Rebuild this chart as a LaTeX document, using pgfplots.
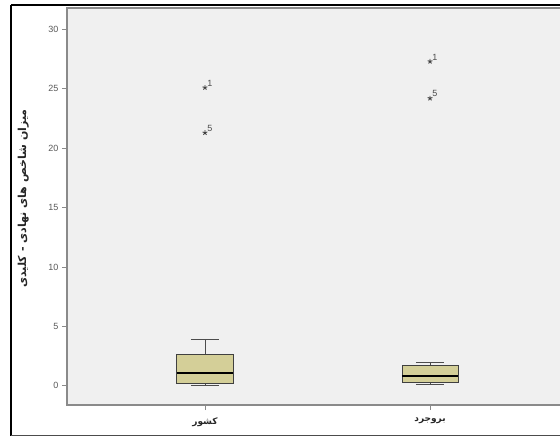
\documentclass[border=0pt]{standalone}
\usepackage{fontspec}
\setmainfont{Liberation Sans}
\newfontfamily\arabicfont[Script=Arabic]{DejaVu Sans}
\TeXXeTstate=1
\usepackage{pgfplots}
\pgfplotsset{compat=1.18}
\usepgfplotslibrary{statistics}

\definecolor{plotbg}{HTML}{F0F0F0}
\definecolor{boxfill}{HTML}{D4CF98}
\definecolor{framegray}{HTML}{8A8A8A}

\begin{document}
\begin{tikzpicture}[x=1pt,y=1pt]
\useasboundingbox (0,0) rectangle (560,437);
\clip (0,0) rectangle (560,437);
\fill[white] (0,0) rectangle (560,437);
\begin{axis}[
    at={(67pt,32pt)}, anchor=south west,
    scale only axis, width=501pt, height=397pt,
    xmin=0.387, xmax=2.613,
    ymin=-1.62, ymax=31.8,
    axis background/.style={fill=plotbg},
    axis line style={draw=framegray, line width=1.2pt},
    tick style={draw=framegray, line width=0.8pt},
    tick align=outside, major tick length=5pt,
    xtick={1,2},
    xticklabels={
        {\arabicfont\bfseries\beginR کشور\endR},
        {\arabicfont\bfseries\beginR بروجرد\endR}
    },
    ytick={0,5,...,30},
    xtick pos=lower, ytick pos=left,
    x tick label style={font=\small, text=black!85, yshift=-4pt},
    y tick label style={font=\small, text=black!65},
    /pgf/number format/assume math mode=true,
    ylabel={\arabicfont\bfseries\beginR میزان شاخص های نهادی - کلیدی\endR},
    ylabel style={at={(axis description cs:-0.087,0.52)}, anchor=center,
                  font=\fontsize{11}{13}\selectfont, text=black!85},
    boxplot/draw direction=y,
    boxplot/every box/.style={draw=black!75, fill=boxfill, line width=0.8pt},
    boxplot/every whisker/.style={draw=black!70, line width=0.9pt},
    boxplot/every median/.style={draw=black, line width=1.6pt},
]
% country
\addplot[boxplot prepared={
    draw position=1,
    lower whisker=0.06, lower quartile=0.2, median=1.07,
    upper quartile=2.64, upper whisker=3.9,
    box extend=0.25, whisker extend=0.125}, mark=none]
    coordinates {};
% Borujerd
\addplot[boxplot prepared={
    draw position=2,
    lower whisker=0.12, lower quartile=0.25, median=0.84,
    upper quartile=1.74, upper whisker=1.94,
    box extend=0.25, whisker extend=0.125}, mark=none]
    coordinates {};
% extreme values
\addplot[only marks, mark=star, mark size=2.5pt, draw=black!75,
    line width=0.9pt,
    nodes near coords, point meta=explicit symbolic,
    nodes near coords style={anchor=south west, font=\small,
        text=black!70, inner sep=1pt, xshift=1pt}]
    coordinates {(1,25.1)[1] (1,21.3)[5] (2,27.3)[1] (2,24.2)[5]};
\end{axis}
\draw[black, line width=2pt] (11,432) -- (600,432);
\draw[black, line width=1.2pt] (11,432) -- (11,1.3);
\draw[black!70, line width=1.2pt] (11,1.3) -- (600,1.3);
\end{tikzpicture}
\end{document}
